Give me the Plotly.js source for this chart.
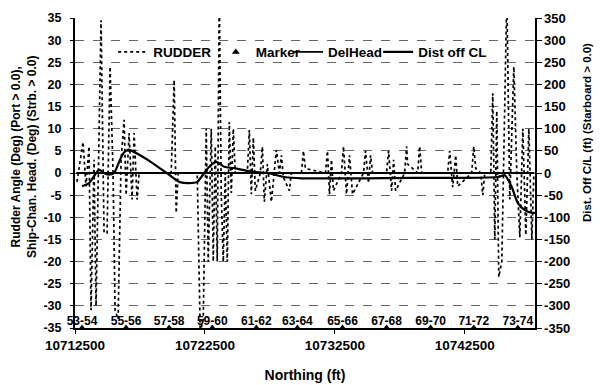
<!DOCTYPE html>
<html>
<head>
<meta charset="utf-8">
<script src="https://cdn.plot.ly/plotly-3.0.1.min.js"></script>
<style>html,body{margin:0;padding:0;background:#fff;}#chart{width:600px;height:385px;}</style>
</head>
<body>
<div id="chart"></div>
<script>
// RUDDER angle (deg) vs Northing (ft)
const rudderNorthing = [10712654,10713117,10713348,10713579,10713734,10713965,10714119,10714505,10714736,10714967,10715199,10715430,10715584,10715815,10716047,10716278,10716432,10716663,10716895,10717049,10717280,10717434,10719902,10720133,10720287,10720441,10721906,10722138,10722369,10722600,10722754,10722986,10723140,10723294,10723448,10723602,10723757,10723911,10724065,10724219,10724373,10724528,10724682,10724836,10725761,10725915,10726070,10726224,10726378,10726764,10726918,10727072,10727303,10727612,10727997,10728228,10728383,10728537,10728999,10729154,10729925,10730079,10730233,10731775,10731929,10732083,10732238,10732392,10733009,10733163,10733394,10733625,10733857,10734705,10734859,10735090,10735245,10735399,10736478,10736632,10736864,10737018,10737172,10737866,10738020,10738097,10738868,10739022,10739177,10741181,10741335,10741567,10741798,10741952,10743032,10743186,10743340,10743726,10743880,10744034,10744497,10744651,10744805,10744959,10745113,10745345,10745730,10745961,10746270,10746501,10746732,10746964,10747195,10747426,10747658,10747812];
const rudderDeg = [-2,7,-3,6,-31,3,-30,34.5,-13.5,-13.5,24,0,-31,-33,3,12,-5,9,-6,9,-6,0,0,21,-9,0,0,-36,-33,10,-20,10,-20,6,-20,40,-5,-20,0,-20,11.5,-4.5,10,0,0,9.7,-4.8,8,-4,0,5.9,-6.5,2,-6.5,5.2,0,4,-1,-4,0,0,5,1,0,5,-4.8,3,-4,0,6,-4.8,4,-4.8,0,5,-2.3,4,0,0,5,-4,3,-4,0,6,2,0,6,0,0,5,-3.2,4,-3,0,6,1,0,-5,0,0,18,-15,14,-23.5,-20,40,-6,24,0,-14.5,10,-14,10,-15,0];

// Markers (run pairs)
const markerNorthing = [10713040,10716432,10719747,10723063,10726455,10729616,10733086,10736478,10739871,10743186,10746578];
const markerLabels = ["53-54","55-56","57-58","59-60","61-62","63-64","65-66","67-68","69-70","71-72","73-74"];
const markerDeg = [-35,-35,-35,-35,-35,-35,-35,-35,-35,-35,-35];

// DelHead (deg)
const delHeadNorthing = [10712600,10720000,10730000,10740000,10747850];
const delHeadDeg = [0,0,0,0,0];

// Dist off CL (ft)
const distNorthing = [10713040,10713579,10714350,10714736,10715121,10715507,10715892,10716278,10716663,10717203,10718437,10719747,10720518,10721289,10721906,10722446,10722831,10723371,10723988,10724759,10726070,10727303,10728614,10729925,10738637,10742492,10745036,10745576,10746116,10746578,10747118,10747658,10747889];
const distFt = [-30,-23,7,0,-4,0,25,47,52,45,23,-4,-20,-23,-20,0,14,25,14,11,3,0,-9,-12,-11,-11,-9,-5,-32,-68,-84,-90,-90];

const yTickVals = [-35,-30,-25,-20,-15,-10,-5,0,5,10,15,20,25,30,35];
const yTickText = ["-35","-30","-25","-20","-15","-10","-5","0","5","10","15","20","25","30","35"];
const y2TickVals = [-350,-300,-250,-200,-150,-100,-50,0,50,100,150,200,250,300,350];
const y2TickText = ["-350","-300","-250","-200","-150","-100","-50","0","50","100","150","200","250","300","350"];
const xTickVals = [10712500,10722500,10732500,10742500];

const FONT = "Liberation Sans, Arial, sans-serif";
const LEGFONT = {family: FONT, size: 13.5, weight: "bold", color: "#000"};

const traces = [
  {x: rudderNorthing, y: rudderDeg, name: "RUDDER", mode: "lines", legend: "legend",
   line: {color: "#000", width: 1.7, dash: "dot"}},
  {x: markerNorthing, y: markerDeg, name: "Marker", mode: "markers", legend: "legend2",
   marker: {symbol: "triangle-up", size: 7, color: "#000"}, cliponaxis: false},
  {x: markerNorthing, y: markerDeg, mode: "text", text: markerLabels, textposition: "top center",
   textfont: {family: FONT, size: 12, color: "#000", weight: "bold"},
   showlegend: false, cliponaxis: false, hoverinfo: "skip"},
  {x: delHeadNorthing, y: delHeadDeg, name: "DelHead", mode: "lines", legend: "legend3",
   line: {color: "#000", width: 1.8}},
  {x: distNorthing, y: distFt, name: "Dist off CL", mode: "lines", yaxis: "y2", legend: "legend4",
   line: {color: "#000", width: 2.2, shape: "spline", smoothing: 0.6}}
];

function leg(x) {
  return {orientation: "h", x: x, y: 0.89, xanchor: "left", yanchor: "middle",
          bgcolor: "rgba(0,0,0,0)", font: LEGFONT, itemwidth: 30};
}

const layout = {
  width: 600, height: 385,
  margin: {l: 75, r: 65, t: 18, b: 57},
  paper_bgcolor: "#fff", plot_bgcolor: "#fff",
  font: {family: FONT, color: "#000"},
  showlegend: true,
  legend: leg(0.083), legend2: leg(0.306), legend3: leg(0.463), legend4: leg(0.659),
  xaxis: {range: [10712500, 10747900], tickmode: "array", tickvals: xTickVals,
          tickformat: "d", showgrid: false, zeroline: false,
          showline: true, linecolor: "#000", linewidth: 1.5,
          ticks: "outside", ticklen: 4, tickcolor: "#000",
          tickfont: {family: FONT, size: 13.5, weight: "bold"},
          title: {text: "Northing (ft)", font: {family: FONT, size: 14, weight: "bold"}, standoff: 18}},
  yaxis: {range: [-35, 35], tickmode: "array", tickvals: yTickVals, ticktext: yTickText,
          showgrid: true, gridcolor: "#666", griddash: "dash", gridwidth: 1,
          zeroline: false, showline: true, linecolor: "#000", linewidth: 2,
          ticks: "outside", ticklen: 3, tickcolor: "#000", ticklabelstandoff: 6,
          tickfont: {family: FONT, size: 12.5, weight: "bold"}},
  yaxis2: {range: [-350, 350], overlaying: "y", side: "right", tickmode: "array",
           tickvals: y2TickVals, ticktext: y2TickText, showgrid: false, zeroline: false,
           showline: true, linecolor: "#000", linewidth: 1.5,
           ticks: "outside", ticklen: 5, tickcolor: "#000",
           tickfont: {family: FONT, size: 13, weight: "bold"}},
  annotations: [
    {text: "Rudder Angle (Deg) (Port > 0.0),<br>Ship-Chan. Head. (Deg) (Strb. > 0.0)",
     xref: "paper", yref: "paper", x: -0.111, y: 0.5516, xanchor: "center", yanchor: "middle",
     textangle: -90, showarrow: false, font: {family: FONT, size: 12, weight: "bold", color: "#000"}},
    {text: "Dist. Off C/L (ft) (Starboard > 0.0)",
     xref: "paper", yref: "paper", x: 1.113, y: 0.632, xanchor: "center", yanchor: "middle",
     textangle: -90, showarrow: false, font: {family: FONT, size: 11.5, weight: "bold", color: "#000"}}
  ]
};

Plotly.newPlot("chart", traces, layout, {displayModeBar: false, staticPlot: true});
</script>
</body>
</html>
